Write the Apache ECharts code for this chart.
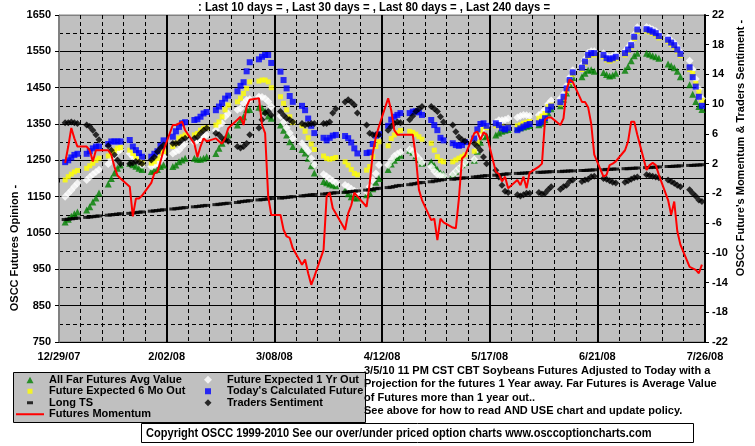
<!DOCTYPE html>
<html><head><meta charset="utf-8">
<script src="https://cdn.jsdelivr.net/npm/echarts@6/dist/echarts.min.js"></script>
<style>html,body{margin:0;padding:0;background:#fff}#c{width:755px;height:446px}</style>
</head><body><div id="c"></div>
<script>
// x-axis tick labels (every 35 days from 12/29/07)
const xTickLabels = ['12/29/07', '2/02/08', '3/08/08', '4/12/08', '5/17/08', '6/21/08', '7/26/08'];
const titleText = ': Last 10 days = , Last 30 days = , Last 80 days = , Last 240 days =';
const leftAxisName = 'OSCC Futures Opinion -';
const rightAxisName = "OSCC Future's Momentum & Traders Sentiment -";
const noteLines = [
  '3/5/10 11 PM CST CBT Soybeans Futures Adjusted to Today with a',
  'Projection for the futures 1 Year away. Far Futures is Average Value',
  'of Futures more than 1 year out..',
  'See above for how to read AND USE chart and update policy.'
];
const copyrightText = 'Copyright OSCC 1999-2010 See our over/under priced option charts www.osccoptioncharts.com';

// One value per weekday (Mon..Fri), 30 weeks starting Mon 12/31/07
const calcFuture = [
  1245,1250,1258,1265,1268, 1268,1275,1283,1288,1288, 1295,1302,1302,1302,1302,
  1306,1288,1278,1270,1260, 1260,1268,1275,1290,1305, 1315,1330,1342,1352,1355,
  1361,1363,1370,1379,1383, 1388,1398,1408,1420,1428, 1440,1455,1465,1495,1520,
  1528,1535,1540,1540,1518, 1494,1471,1448,1427,1411, 1400,1388,1365,1345,1325,
  1312,1305,1312,1318,1320, 1317,1311,1299,1283,1269, 1270,1272,1295,1318,1322,
  1345,1362,1370,1375,1380, 1380,1384,1385,1382,1375, 1361,1347,1333,1312,1305,
  1297,1292,1290,1292,1300, 1310,1335,1350,1352,1345, 1352,1347,1338,1335,1340,
  1333,1338,1343,1347,1350, 1352,1356,1366,1389,1398, 1410,1425,1448,1471,1492,
  1505,1522,1540,1545,1545, 1540,1531,1528,1531,1535, 1545,1555,1567,1590,1610,
  1611,1608,1604,1600,1592, 1582,1574,1567,1555,1543, 1506,1479,1453,1425,1400
];
const sixMoOut = [
  1196,1205,1212,1218,1222, 1228,1235,1242,1250,1256, 1262,1270,1276,1283,1285,
  1278,1269,1260,1251,1242, 1242,1246,1255,1269,1274, 1288,1297,1311,1315,1320,
  1320,1324,1333,1338,1340, 1347,1356,1370,1389,1402, 1411,1421,1434,1448,1466,
  1468,1471,1471,1466,1450, 1425,1407,1389,1370,1354, 1345,1330,1312,1295,1280,
  1262,1255,1253,1255,1258, 1246,1237,1225,1214,1210, 1223,1233,1260,1288,1301,
  1290,1310,1320,1326,1332, 1330,1327,1322,1315,1308, 1297,1278,1260,1249,1246,
  1246,1251,1256,1260,1265, 1275,1300,1330,1342,1340, 1345,1347,1342,1340,1342,
  1345,1348,1352,1355,1357, 1366,1372,1379,1398,1402, 1405,1420,1443,1466,1487,
  1500,1517,1535,1540,1540, 1535,1526,1523,1526,1530, 1540,1550,1562,1585,1604,
  1606,1603,1599,1595,1587, 1577,1569,1562,1550,1538, 1500,1489,1462,1439,1415
];
const oneYrOut = [
  1150,1159,1168,1178,1187, 1196,1204,1212,1218,1224, 1240,1252,1262,1272,1280,
  1269,1260,1256,1246,1237, 1233,1237,1242,1251,1260, 1269,1274,1278,1288,1297,
  1300,1305,1310,1316,1320, 1333,1347,1352,1370,1379, 1389,1393,1407,1416,1418,
  1425,1424,1420,1412,1398, 1372,1355,1340,1325,1310, 1297,1285,1275,1255,1238,
  1212,1206,1200,1194,1188, 1182,1178,1172,1166,1162, 1164,1178,1196,1214,1237,
  1237,1250,1262,1268,1272, 1280,1276,1265,1255,1244, 1232,1220,1212,1208,1206,
  1212,1220,1228,1236,1244, 1252,1280,1315,1340,1345, 1355,1360,1360,1362,1365,
  1368,1372,1375,1374,1372, 1375,1380,1390,1405,1415, 1420,1432,1455,1478,1498,
  1512,1528,1546,1550,1550, 1545,1537,1533,1537,1541, 1551,1561,1573,1596,1616,
  1617,1614,1610,1606,1598, 1588,1580,1573,1561,1549, 1524,1500,1474,1446,1420
];
const farFutures = [
  1080,1088,1096,1103,1108, 1113,1122,1135,1146,1160, 1185,1200,1215,1228,1237,
  1242,1238,1234,1228,1225, 1219,1223,1225,1233,1237, 1233,1237,1246,1251,1256,
  1256,1253,1253,1256,1260, 1269,1283,1297,1311,1320, 1347,1361,1370,1389,1390,
  1396,1394,1385,1372,1366, 1347,1333,1320,1301,1288, 1280,1270,1256,1235,1215,
  1192,1188,1185,1182,1180, 1168,1158,1150,1147,1146, 1155,1160,1172,1190,1200,
  1225,1240,1250,1258,1264, 1278,1272,1262,1252,1242, 1246,1236,1225,1215,1212,
  1212,1220,1230,1238,1245, 1250,1275,1300,1315,1318, 1320,1325,1330,1333,1335,
  1338,1340,1342,1344,1346, 1348,1352,1362,1380,1392, 1400,1418,1435,1460,1478,
  1480,1490,1498,1499,1495, 1492,1486,1482,1484,1490, 1498,1508,1524,1538,1545,
  1545,1542,1538,1535,1531, 1515,1510,1505,1495,1480, 1458,1432,1412,1398,1390
];
const longTS = [
  1087,1088,1089,1090,1091, 1093,1094,1095,1096,1097, 1099,1100,1101,1102,1103,
  1104,1105,1106,1107,1108, 1110,1111,1112,1113,1114, 1116,1117,1118,1119,1120,
  1122,1123,1124,1125,1126, 1128,1129,1130,1131,1132, 1134,1136,1137,1138,1139,
  1141,1142,1143,1144,1145, 1146,1147,1148,1149,1150, 1152,1153,1154,1155,1156,
  1157,1158,1159,1160,1161, 1162,1163,1164,1165,1166, 1168,1169,1170,1172,1173,
  1175,1176,1178,1180,1181, 1183,1185,1186,1188,1189, 1191,1193,1194,1196,1197,
  1198,1199,1200,1201,1202, 1204,1205,1206,1207,1208, 1209,1210,1211,1212,1213,
  1214,1214,1215,1215,1216, 1217,1217,1218,1218,1219, 1219,1220,1220,1221,1221,
  1222,1222,1223,1223,1224, 1224,1225,1225,1226,1226, 1227,1227,1228,1228,1229,
  1230,1230,1231,1231,1232, 1233,1233,1234,1234,1235, 1236,1236,1237,1237,1238
];
const sentiment = [
  7.5,7.5,7.6,7.5,7.4, 7.2,7.0,6.5,5.9,5.2, 4.4,3.8,3.2,2.5,2.0,
  2.0,2.1,2.3,2.2,2.0, 2.5,2.9,3.6,4.1,4.5, 4.7,4.7,4.8,5.2,5.4,
  5.4,5.6,6.1,6.5,6.8, 6.1,5.9,5.4,5.2,5.0, 4.3,4.1,4.3,4.7,5.9,
  6.8,7.9,8.8,9.0,8.5, 9.0,8.5,8.1,7.9,7.6, 7.4,7.2,7.3,7.4,7.4,
  7.4,7.4,7.6,8.8,9.4, 10.3,10.6,10.3,9.9,8.8, 7.2,6.1,5.9,5.9,5.9,
  6.5,7.0,7.4,7.6,7.5, 7.9,8.4,9.0,9.4,9.7, 9.7,9.4,9.0,8.3,7.6,
  7.2,6.3,5.6,5.2,5.0, 4.7,4.3,3.8,2.9,2.0, 1.1,0.2,-0.9,-1.7,-1.9,
  -2.2,-2.35,-2.2,-2.0,-2.0, -1.9,-2.1,-2.0,-1.5,-1.1, -1.45,-1.1,-0.9,-0.4,-0.2,
  -0.4,-0.2,-0.1,0.25,0.3, 0.0,-0.1,-0.3,-0.5,-0.6, -0.5,-0.3,-0.1,0.1,0.2,
  0.5,0.4,0.3,0.2,0.1, -0.2,-0.4,-0.65,-0.9,-1.1, -1.5,-2.0,-2.4,-2.9,-3.1
];
const momentum = [
  2.1,4.3,6.8,5.4,4.3, 4.3,3.8,2.3,3.8,3.8, 3.8,3.2,1.6,0.4,0.0,
  -1.1,-5.1,-2.7,-2.7,-2.3, -0.6,0.7,0.9,2.3,3.8, 7.2,7.2,7.4,7.65,6.5,
  4.7,2.9,4.3,5.4,5.0, 5.4,5.0,4.7,5.4,6.75, 7.9,8.3,7.2,9.7,10.6,
  10.8,7.2,6.1,-2.4,-4.9, -4.9,-6.9,-7.8,-8.0,-9.4, -11.6,-10.9,-12.75,-14.3,-13.2,
  -9.6,-2.4,-1.9,-4.0,-4.7, -6.9,-4.7,-3.6,-1.9,-2.4, -3.8,-0.65,3.4,5.6,7.0,
  10.8,9.2,6.5,5.9,5.9, 5.9,5.9,2.9,-1.5,-2.9, -5.6,-5.4,-8.3,-5.4,-5.9,
  -6.6,-6.7,-2.7,2.7,3.1, 6.1,6.3,5.2,6.2,5.9, 0.9,0.6,-0.4,0.25,-1.3,
  -0.2,-0.9,0.25,-1.3,0.8, 1.6,2.0,7.9,8.2,8.2, 7.2,8.1,11.9,13.3,13.0,
  10.3,10.3,9.6,7.4,3.2, 0.25,0.5,1.8,2.0,2.3, 3.8,5.0,7.65,7.65,5.9,
  1.15,1.8,2.1,1.8,0.5, -2.9,-4.9,-3.1,-7.1,-8.9, -11.9,-12.1,-12.3,-12.75,-11.6
];

// index i -> days since 12/29/07 (weekdays only)
const dayOf = i => 2 + 7 * Math.floor(i / 5) + (i % 5);
const pts = arr => arr.map((v, i) => [dayOf(i), v]);

const FONT = "'Liberation Sans', Arial, sans-serif";
const lab = { color: '#000', fontWeight: 'bold', fontSize: 11, fontFamily: FONT };
const dash = [4, 3];

// legend icons drawn in a 28x8 box
const ICON = {
  tri: 'path://M0,0M28,8M10.5,7.5L14,1L17.5,7.5Z',
  sqY: 'path://M0,0M28,8M11.5,1.5h5v5h-5z',
  dashL: 'path://M0,0M28,8M11,2.5h6v3h-6z',
  line: 'path://M0,0M28,8M0,3h28v2h-28z',
  dia: 'path://M0,0M28,8M14,0L18,4L14,8L10,4Z',
  sqB: 'path://M0,0M28,8M11,1h6v6h-6z',
  diaB: 'path://M0,0M28,8M14,0.5L17.5,4L14,7.5L10.5,4Z'
};
// split-line colours: plot border (top / left) stays grey
const ySplitColors = ['#000', '#000', '#000', '#000', '#000', '#000', '#000', '#000', '#000', '#808080'];
const xSplitColors = ['#808080', '#000', '#000', '#000', '#000', '#000', '#000'];

const chart = echarts.init(document.getElementById('c'), null, { renderer: 'canvas' });
chart.setOption({
  animation: false,
  backgroundColor: '#fff',
  grid: { left: 59, top: 15, width: 646, height: 327, show: true, backgroundColor: '#c0c0c0', borderColor: '#808080', borderWidth: 1 },
  xAxis: {
    type: 'value', min: 0, max: 210, interval: 35,
    axisLine: { lineStyle: { color: '#000', width: 1 } },
    axisTick: { show: true, length: 4, lineStyle: { color: '#000' } },
    axisLabel: Object.assign({ margin: 9, formatter: v => xTickLabels[Math.round(v / 35)] || '' }, lab),
    splitLine: { show: true, lineStyle: { color: xSplitColors, width: 2 } },
    minorTick: { show: false, splitNumber: 5 },
    minorSplitLine: { show: true, lineStyle: { color: '#000', width: 1, type: dash } }
  },
  yAxis: [{
    type: 'value', min: 750, max: 1650, interval: 100, position: 'left',
    axisLine: { show: true, lineStyle: { color: '#808080', width: 1 } },
    axisTick: { show: true, length: 4, lineStyle: { color: '#000' } },
    axisLabel: Object.assign({ margin: 8, formatter: v => String(v) }, lab),
    splitLine: { show: true, lineStyle: { color: ySplitColors, width: 1 } },
    minorTick: { show: false, splitNumber: 2 },
    minorSplitLine: { show: true, lineStyle: { color: '#000', width: 1, type: dash } }
  }, {
    type: 'value', min: -22, max: 22, interval: 4, position: 'right',
    axisLine: { show: true, lineStyle: { color: '#000', width: 2 } },
    axisTick: { show: true, length: 4, lineStyle: { color: '#000' } },
    axisLabel: Object.assign({ margin: 7, formatter: v => String(v) }, lab),
    splitLine: { show: false }
  }],
  legend: [{
    data: [
      { name: 'All Far Futures Avg Value', icon: ICON.tri },
      { name: 'Future Expected 6 Mo Out', icon: ICON.sqY },
      { name: 'Long TS', icon: ICON.dashL },
      { name: 'Futures Momentum', icon: ICON.line }
    ],
    orient: 'vertical', left: 16, top: 374, padding: 0, itemGap: 0,
    itemWidth: 28, itemHeight: 8, selectedMode: false,
    textStyle: Object.assign({ lineHeight: 11.5 }, lab)
  }, {
    data: [
      { name: 'Future Expected 1 Yr Out', icon: ICON.dia },
      { name: "Today's Calculated Future", icon: ICON.sqB },
      { name: 'Traders Sentiment', icon: ICON.diaB }
    ],
    orient: 'vertical', left: 194, top: 374, padding: 0, itemGap: 0,
    itemWidth: 28, itemHeight: 8, selectedMode: false,
    textStyle: Object.assign({ lineHeight: 11.5 }, lab)
  }],
  series: [
    { name: 'All Far Futures Avg Value', type: 'scatter', data: pts(farFutures), symbol: 'triangle', symbolSize: 7, itemStyle: { color: '#008000' } },
    { name: 'Future Expected 1 Yr Out', type: 'scatter', data: pts(oneYrOut), symbol: 'diamond', symbolSize: 8, itemStyle: { color: '#ffffff' } },
    { name: 'Future Expected 6 Mo Out', type: 'scatter', data: pts(sixMoOut), symbol: 'rect', symbolSize: 5, itemStyle: { color: '#ffff00' } },
    { name: "Today's Calculated Future", type: 'scatter', data: pts(calcFuture), symbol: 'rect', symbolSize: 6, itemStyle: { color: '#0000ff' } },
    { name: 'Long TS', type: 'scatter', data: pts(longTS), symbol: 'rect', symbolSize: [7, 3], itemStyle: { color: '#000' } },
    { name: 'Traders Sentiment', type: 'scatter', yAxisIndex: 1, data: pts(sentiment), symbol: 'diamond', symbolSize: 7, itemStyle: { color: '#000' } },
    { name: 'Futures Momentum', type: 'line', yAxisIndex: 1, data: pts(momentum), symbol: 'none', lineStyle: { color: '#ff0000', width: 2 }, itemStyle: { color: '#ff0000' } }
  ],
  graphic: [
    { type: 'text', x: 374, y: 7, scaleX: 0.87, style: { text: titleText, font: 'bold 13px ' + FONT, fill: '#000', textAlign: 'center', textVerticalAlign: 'middle' } },
    { type: 'rect', z: -1, shape: { x: 13.5, y: 372.5, width: 352, height: 50 }, style: { fill: '#c0c0c0', stroke: '#000', lineWidth: 1 } },
    { type: 'text', x: 364, y: 364, style: { text: noteLines.join('\n'), font: 'bold 11px ' + FONT, lineHeight: 13.4, fill: '#000' } },
    { type: 'rect', shape: { x: 141.5, y: 423.5, width: 552, height: 19 }, style: { fill: '#fff', stroke: '#000', lineWidth: 1 } },
    { type: 'text', x: 146, y: 433, scaleX: 0.85, style: { text: copyrightText, font: 'bold 13px ' + FONT, fill: '#000', textVerticalAlign: 'middle' } },
    { type: 'text', x: 15, y: 248, rotation: Math.PI / 2, style: { text: leftAxisName, font: 'bold 11px ' + FONT, fill: '#000', textAlign: 'center', textVerticalAlign: 'middle' } },
    { type: 'text', x: 741, y: 148, rotation: Math.PI / 2, style: { text: rightAxisName, font: 'bold 11px ' + FONT, fill: '#000', textAlign: 'center', textVerticalAlign: 'middle' } }
  ]
});
</script></body></html>
